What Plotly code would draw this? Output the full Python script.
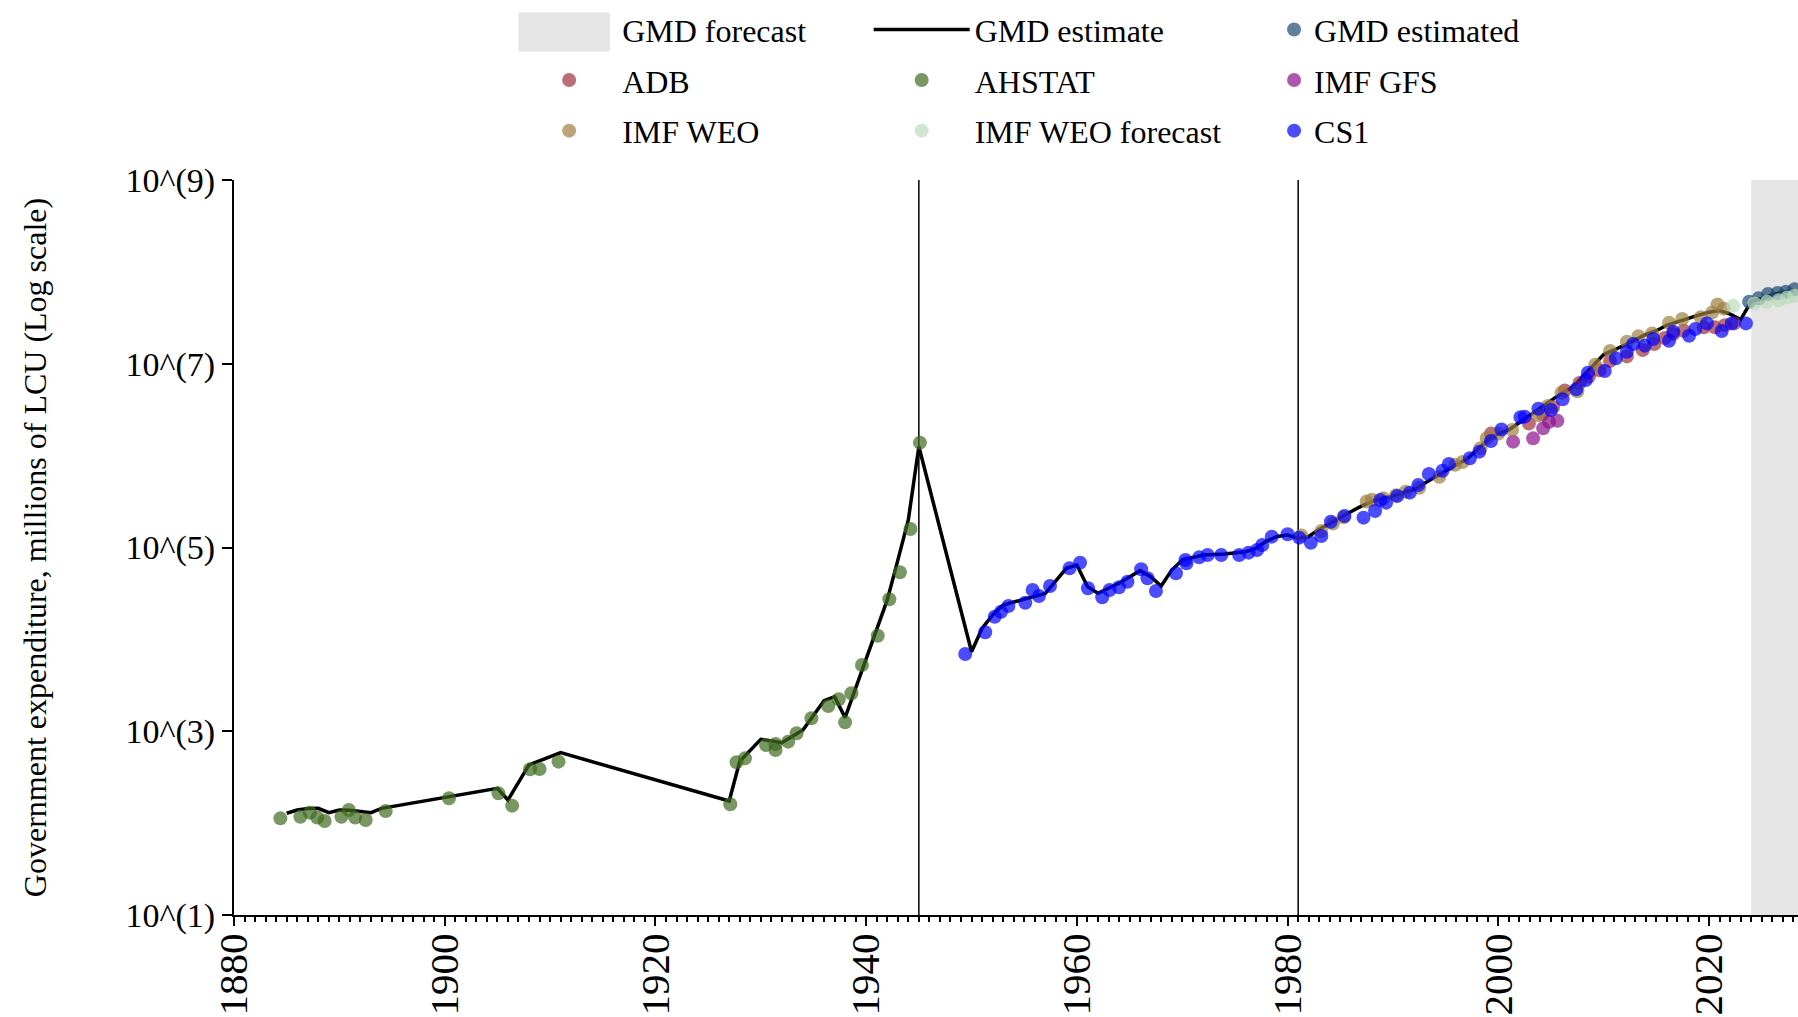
import plotly.graph_objects as go

# ---------------- data (log10 of millions of LCU) ----------------
est_years = [1885, 1886, 1887, 1888, 1889, 1890, 1891, 1892, 1893, 1894, 1905, 1906, 1908, 1911,
             1927, 1928, 1930, 1932, 1934, 1936, 1937, 1938, 1939, 1940, 1941, 1942, 1943, 1944, 1945,
             1950, 1951, 1952, 1953, 1955, 1957, 1959, 1960, 1961, 1962, 1964, 1966, 1967, 1968, 1969,
             1970, 1972, 1974, 1976, 1977, 1978, 1979, 1980, 1981, 1982, 1983, 1984, 1985, 1986, 1987,
             1988, 1989, 1990, 1991, 1992, 1993, 1994, 1995, 1996, 1997, 1998, 1999, 2000, 2001, 2002,
             2003, 2004, 2005, 2006, 2007, 2008, 2009, 2010, 2011, 2012, 2013, 2014, 2015, 2016, 2017,
             2018, 2019, 2020, 2021, 2022, 2023, 2024, 2025, 2026, 2027, 2028]
est_log = [2.107, 2.143, 2.160, 2.161, 2.114, 2.143, 2.140, 2.125, 2.114, 2.161, 2.379, 2.252, 2.633, 2.767,
           2.241, 2.672, 2.912, 2.876, 3.014, 3.333, 3.376, 3.148, 3.47, 3.80, 4.10, 4.43, 4.86, 5.30, 6.10,
           3.866, 4.120, 4.265, 4.374, 4.436, 4.501, 4.773, 4.809, 4.574, 4.501, 4.610, 4.748, 4.682, 4.581, 4.755,
           4.864, 4.918, 4.929, 4.954, 4.991, 5.07, 5.12, 5.136, 5.100, 5.12, 5.20, 5.26, 5.33, 5.39, 5.45,
           5.50, 5.535, 5.56, 5.60, 5.63, 5.70, 5.77, 5.84, 5.90, 5.96, 6.06, 6.17, 6.24, 6.28, 6.36,
           6.44, 6.53, 6.61, 6.68, 6.74, 6.86, 6.98, 7.10, 7.15, 7.20, 7.26, 7.32, 7.36, 7.42, 7.46,
           7.50, 7.53, 7.56, 7.58, 7.54, 7.48, 7.68, 7.71, 7.75, 7.78, 7.80]

gmd_estd_years = [2023.8, 2024.7, 2025.6, 2026.5, 2027.3, 2028.1]
gmd_estd_log = [7.675, 7.712, 7.759, 7.77, 7.784, 7.81]

adb_years = [1999.3, 2002.9, 2004.2, 2005.2, 2006.3, 2007.7, 2008.6, 2009.6, 2010.6, 2012.2, 2013.7,
             2014.8, 2015.8, 2016.6, 2017.6, 2019.5, 2020.55, 2021.5, 2022.4]
adb_log = [6.24, 6.35, 6.45, 6.53, 6.71, 6.79, 6.86, 6.93, 7.03, 7.08, 7.15,
           7.215, 7.28, 7.324, 7.36, 7.396, 7.396, 7.42, 7.439]

ahstat_years = [1884.4, 1886.3, 1887.2, 1887.9, 1888.6, 1890.2, 1890.9, 1891.5, 1892.5, 1894.4, 1900.4,
                1905.1, 1906.4, 1908.1, 1909.0, 1910.8, 1927.1, 1927.7, 1928.5, 1930.5, 1931.4, 1931.4,
                1932.6, 1933.4, 1934.8, 1936.4, 1937.4, 1938.0, 1938.6, 1939.6, 1941.1, 1942.2, 1943.2,
                1944.2, 1945.1]
ahstat_log = [2.052, 2.070, 2.114, 2.060, 2.023, 2.070, 2.143, 2.060, 2.034, 2.132, 2.270,
              2.324, 2.190, 2.586, 2.589, 2.669, 2.205, 2.662, 2.705, 2.850, 2.861, 2.796,
              2.887, 2.978, 3.141, 3.275, 3.348, 3.097, 3.413, 3.721, 4.040, 4.436, 4.730,
              5.201, 6.141]

gfs_years = [2001.4, 2003.3, 2004.25, 2004.8, 2005.6]
gfs_log = [6.152, 6.188, 6.297, 6.369, 6.380]

weo_years = [1981.3, 1983.2, 1984.3, 1985.3, 1987.5, 1988.0, 1989.1, 1990.3, 1991.2, 1992.5, 1994.4,
             1995.9, 1996.6, 1998.3, 1998.9, 2000.0, 2001.3, 2003.75, 2004.7, 2006.0, 2007.5, 2009.2,
             2010.6, 2012.2, 2013.3, 2014.6, 2016.2, 2017.45, 2019.2, 2020.3, 2020.8, 2021.4]
weo_log = [5.13, 5.18, 5.26, 5.33, 5.50, 5.52, 5.535, 5.57, 5.607, 5.65, 5.77,
           5.90, 5.93, 6.08, 6.19, 6.24, 6.28, 6.44, 6.54, 6.685, 6.70, 6.99,
           7.14, 7.24, 7.30, 7.33, 7.446, 7.487, 7.505, 7.559, 7.646, 7.60]

weo_fc_years = [2022.3, 2024.3, 2025.5, 2026.6, 2027.4, 2028.1]
weo_fc_log = [7.63, 7.655, 7.675, 7.69, 7.72, 7.74]

cs1_years = [1949.4, 1951.3, 1952.2, 1952.8, 1953.5, 1955.1, 1955.8, 1956.4, 1957.45, 1959.3, 1960.3,
             1961.05, 1962.4, 1963.1, 1964.0, 1964.8, 1966.1, 1966.7, 1967.5, 1969.4, 1970.3, 1970.4,
             1971.6, 1972.4, 1973.7, 1975.4, 1976.3, 1977.1, 1977.6, 1978.5, 1980.0, 1981.1, 1982.2,
             1983.2, 1984.1, 1985.4, 1987.2, 1988.3, 1988.8, 1989.35, 1990.4, 1991.6, 1992.4, 1993.4,
             1994.7, 1995.3, 1997.3, 1998.2, 1999.3, 2000.3, 2002.1, 2002.5, 2003.8, 2005.0, 2006.1,
             2007.4, 2008.3, 2008.5, 2010.1, 2011.15, 2012.2, 2012.8, 2013.9, 2014.7, 2016.2, 2016.6,
             2018.1, 2018.7, 2019.8, 2021.2, 2022.15, 2023.5]
cs1_log = [3.841, 4.077, 4.247, 4.301, 4.363, 4.399, 4.537, 4.472, 4.581, 4.773, 4.835,
           4.556, 4.458, 4.537, 4.567, 4.628, 4.763, 4.665, 4.526, 4.719, 4.864, 4.828,
           4.893, 4.918, 4.918, 4.918, 4.944, 4.973, 5.027, 5.118, 5.144, 5.107, 5.052,
           5.125, 5.281, 5.343, 5.325, 5.397, 5.517, 5.488, 5.561, 5.597, 5.680, 5.800,
           5.836, 5.909, 5.971, 6.043, 6.159, 6.285, 6.417, 6.424, 6.510, 6.497, 6.613,
           6.722, 6.823, 6.903, 6.921, 7.059, 7.131, 7.215, 7.197, 7.269, 7.251, 7.349,
           7.305, 7.378, 7.439, 7.356, 7.439, 7.439]

forecast_start = 2024
break_years = [1945, 1981]
x_range = [1880, 2028.44]
y_log_range = [1, 9]
y_tick_exps = [1, 3, 5, 7, 9]
x_tick_years = [1880, 1900, 1920, 1940, 1960, 1980, 2000, 2020]


def lin(v):
    return [10 ** e for e in v]


FONT = "Liberation Serif"
MS = 14
OP = 0.7

fig = go.Figure()

# legend entry for the forecast band (its key box is drawn as a shape below)
fig.add_trace(go.Scatter(x=[None], y=[None], mode="lines", name="GMD forecast",
                         line=dict(color="rgba(0,0,0,0)", width=0),
                         legend="legend", legendgroup="fc", hoverinfo="skip"))
fig.add_trace(go.Scatter(x=est_years, y=lin(est_log), mode="lines", name="GMD estimate",
                         line=dict(color="black", width=3.5), legend="legend2", legendgroup="est"))
fig.add_trace(go.Scatter(x=gmd_estd_years, y=lin(gmd_estd_log), mode="markers", name="GMD estimated",
                         marker=dict(color="#1d4a73", size=MS, opacity=OP), legend="legend3",
                         legendgroup="estd"))
fig.add_trace(go.Scatter(x=adb_years, y=lin(adb_log), mode="markers", name="ADB",
                         marker=dict(color="#a0303a", size=MS, opacity=OP), legend="legend",
                         legendgroup="adb"))
fig.add_trace(go.Scatter(x=ahstat_years, y=lin(ahstat_log), mode="markers", name="AHSTAT",
                         marker=dict(color="#3f6b1f", size=MS, opacity=OP), legend="legend2",
                         legendgroup="ahstat"))
fig.add_trace(go.Scatter(x=gfs_years, y=lin(gfs_log), mode="markers", name="IMF GFS",
                         marker=dict(color="#8b0f8b", size=MS, opacity=OP), legend="legend3",
                         legendgroup="gfs"))
fig.add_trace(go.Scatter(x=weo_years, y=lin(weo_log), mode="markers", name="IMF WEO",
                         marker=dict(color="#9c8040", size=MS, opacity=OP), legend="legend",
                         legendgroup="weo"))
fig.add_trace(go.Scatter(x=weo_fc_years, y=lin(weo_fc_log), mode="markers", name="IMF WEO forecast",
                         marker=dict(color="#bcdcbc", size=MS, opacity=OP), legend="legend2",
                         legendgroup="weofc"))
fig.add_trace(go.Scatter(x=cs1_years, y=lin(cs1_log), mode="markers", name="CS1",
                         marker=dict(color="#0000ff", size=MS, opacity=OP), legend="legend3",
                         legendgroup="cs1"))

# forecast band
fig.add_shape(type="rect", xref="x", yref="paper", x0=forecast_start, x1=2035, y0=0, y1=1,
              fillcolor="#e5e5e5", line=dict(width=0), layer="below")
for by in break_years:
    fig.add_shape(type="line", xref="x", yref="paper", x0=by, x1=by, y0=0, y1=1,
                  line=dict(color="black", width=1.5), layer="below")
# legend key box for "GMD forecast"
fig.add_shape(type="rect", xref="paper", yref="paper", x0=0.1818, x1=0.2404, y0=1.1747, y1=1.2278,
              fillcolor="#e5e5e5", line=dict(width=0), layer="above")

leg_common = dict(orientation="v", yanchor="top", y=1.242, xanchor="left",
                  font=dict(family=FONT, size=32, color="black"), bgcolor="rgba(0,0,0,0)",
                  tracegroupgap=6, traceorder="grouped")

fig.update_layout(
    width=1798, height=1017,
    margin=dict(l=234, r=0, t=180, b=102, autoexpand=False),
    paper_bgcolor="white", plot_bgcolor="white",
    font=dict(family=FONT, color="black"),
    showlegend=True,
    legend=dict(x=0.1804, itemwidth=96, **leg_common),
    legend2=dict(x=0.4058, itemwidth=96, **leg_common),
    legend3=dict(x=0.665, itemwidth=30, **leg_common),
    xaxis=dict(range=x_range, showgrid=False, zeroline=False, showline=True, linecolor="black",
               linewidth=2, ticks="outside", ticklen=9, tickwidth=2, tickcolor="black",
               tickvals=x_tick_years, ticktext=[str(v) for v in x_tick_years], tickangle=-90,
               tickfont=dict(family=FONT, size=41, color="black"), ticklabelstandoff=-9,
               automargin=False,
               minor=dict(dtick=1, tick0=1880, ticks="outside", ticklen=5, tickwidth=1.5,
                          tickcolor="black", showgrid=False)),
    yaxis=dict(type="log", range=y_log_range, showgrid=False, zeroline=False, showline=True,
               linecolor="black", linewidth=2, ticks="outside", ticklen=10, tickwidth=2,
               tickcolor="black", tickvals=[10 ** e for e in y_tick_exps],
               ticktext=["10^(%d)" % e for e in y_tick_exps], ticklabelstandoff=0,
               tickfont=dict(family=FONT, size=34, color="black"), automargin=False,
               title=dict(text="Government expenditure, millions of LCU (Log scale)",
                          font=dict(family=FONT, size=32, color="black"), standoff=69)),
)

# remove the default 8px page margin so the 1798x1017 figure fills the window exactly
fig.write_html("out.html", config={"displayModeBar": False},
               post_script="document.body.style.margin='0px';")
